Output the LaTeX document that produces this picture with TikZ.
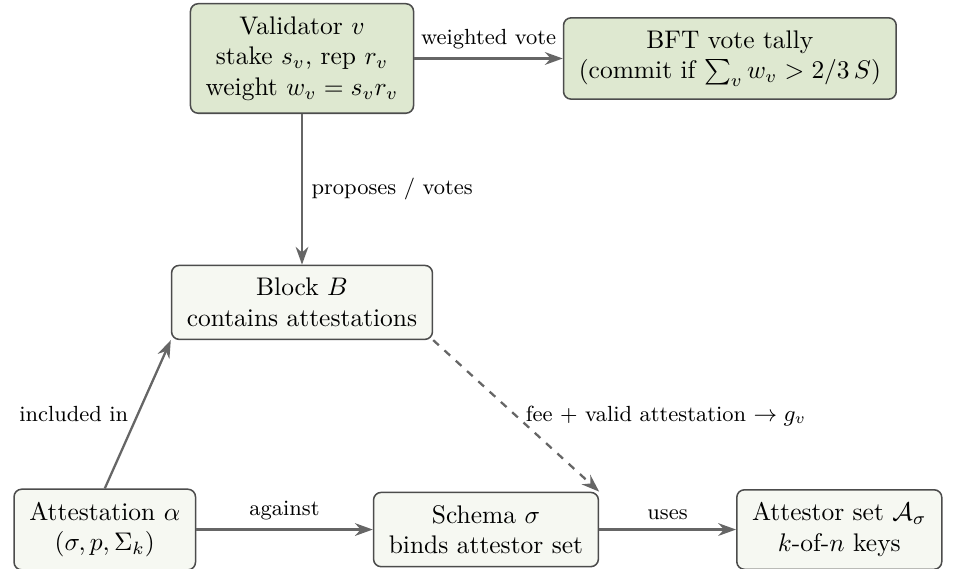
\documentclass[tikz,border=0pt]{standalone}
\usepackage{amsmath}
\usetikzlibrary{arrows.meta}
\definecolor{voteFill}{RGB}{222,232,208}
\definecolor{plainFill}{RGB}{246,248,242}

\begin{document}
\begin{tikzpicture}[
    node/.style={draw=black!70, rounded corners=3pt, align=center,
                 inner xsep=6pt, inner ysep=5pt, line width=0.6pt},
    voter/.style={node, fill=voteFill},
    plain/.style={node, fill=plainFill},
    link/.style={-{Stealth[length=7pt,width=5pt]}, draw=black!60, line width=0.9pt},
    tag/.style={font=\fontsize{8.6pt}{10pt}\selectfont}]

  \useasboundingbox (-4.168,0.807) rectangle (9.067,-7.045);

  \node [voter] (V) {Validator $v$\\ stake $s_v$, rep $r_v$\\ weight $w_v = s_v r_v$};

  \path (V) ++(5.905,0)      node [voter] (T) {BFT vote tally\\ (commit if $\sum_v w_v > 2/3\,S$)};
  \path (V) ++(0,-3.366)     node [plain] (B) {Block $B$\\ contains attestations};
  \path (B) ++(-2.722,-3.135) node [plain] (A) {Attestation $\alpha$\\ $(\sigma, p, \Sigma_k)$};
  \path (A) ++(5.261,0)      node [plain] (S) {Schema $\sigma$\\ binds attestor set};
  \path (S) ++(4.876,0)      node [plain] (K) {Attestor set $\mathcal{A}_\sigma$\\ $k$-of-$n$ keys};

  \draw [link] (V) -- (T) node [tag, above, pos=0.5] {weighted vote};
  \draw [link] (V) -- (B) node [tag, right, pos=0.5] {proposes / votes};
  \draw [link] (A.north) -- (B.south west) node [tag, left, pos=0.5] {included in};
  \draw [link, dashed] (B.south east) -- (S.north east)
        node [tag, right, pos=0.5] {fee + valid attestation $\to g_v$};
  \draw [link] (A) -- (S) node [tag, above, pos=0.5] {against};
  \draw [link] (S) -- (K) node [tag, above, pos=0.5] {uses};
\end{tikzpicture}
\end{document}
